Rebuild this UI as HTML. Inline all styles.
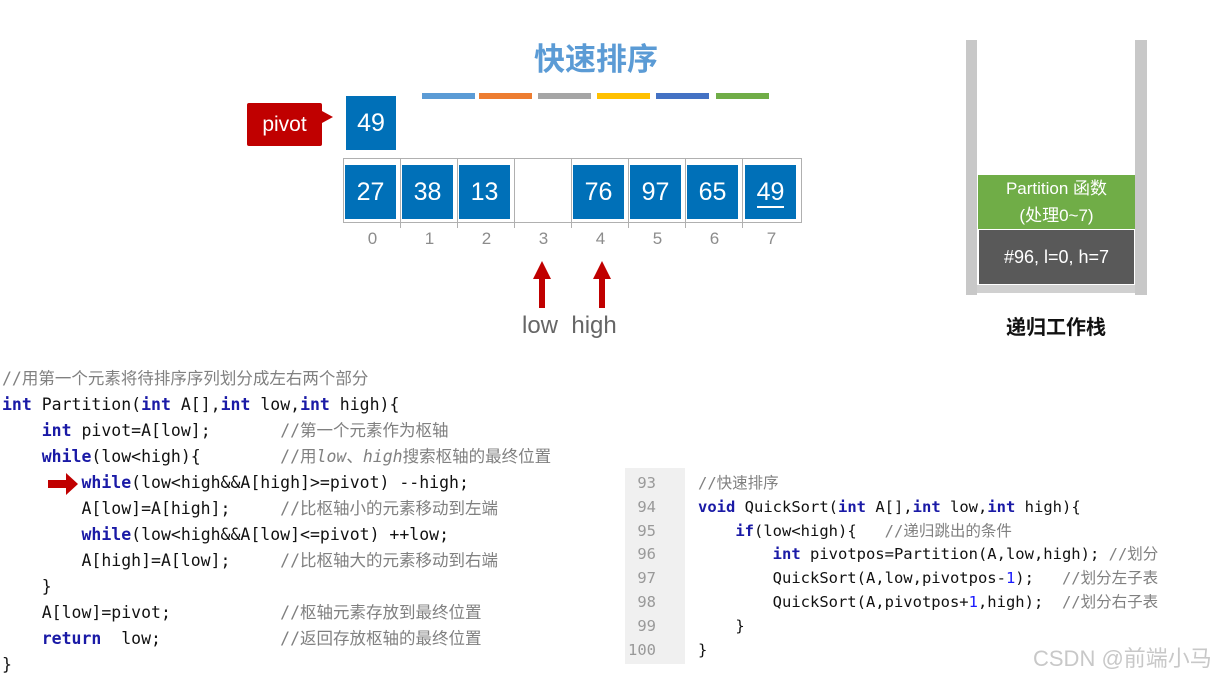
<!DOCTYPE html>
<html><head><meta charset="utf-8"><style>
body{margin:0;width:1220px;height:674px;background:#fff;position:relative;overflow:hidden;font-family:"Liberation Sans","Noto Sans CJK SC",sans-serif}
.a{position:absolute}
.cell{position:absolute;background:#0070b8;color:#fff;font-size:25px;text-align:center;line-height:54px;width:51px;height:54px;top:165px}
.idx{position:absolute;top:229px;width:51px;text-align:center;color:#8c8c8c;font-size:17px}
.bar{position:absolute;top:93px;height:6px;width:53px}
.code{position:absolute;font-family:"DejaVu Sans Mono","Noto Sans CJK SC",monospace;font-size:16.5px;white-space:pre;color:#111;line-height:26px}
.k{color:#1a1aa6;font-weight:bold}
.c{color:#808080}
.ci{color:#808080;font-style:italic}
.code2{position:absolute;font-family:"DejaVu Sans Mono","Noto Sans CJK SC",monospace;font-size:15.5px;white-space:pre;color:#111;line-height:23.8px}
.n{color:#1a1aff}
</style></head><body>
<div class="a" style="left:496px;top:34px;width:200px;text-align:center;font-size:31px;font-weight:bold;color:#5b9bd5">快速排序</div>
<div class="bar" style="left:422px;background:#5b9bd5"></div>
<div class="bar" style="left:479px;background:#ed7d31"></div>
<div class="bar" style="left:538px;background:#a5a5a5"></div>
<div class="bar" style="left:597px;background:#ffc000"></div>
<div class="bar" style="left:656px;background:#4472c4"></div>
<div class="bar" style="left:716px;background:#70ad47"></div>
<div class="a" style="left:247px;top:103px;width:75px;height:43px;background:#c00000;color:#fff;font-size:21px;line-height:43px;text-align:center;border-radius:2px">pivot</div>
<div class="a" style="left:322px;top:111px;width:0;height:0;border-top:6px solid transparent;border-bottom:6px solid transparent;border-left:11px solid #c00000"></div>
<div class="cell" style="left:346px;top:96px;width:50px">49</div>
<div class="a" style="left:343px;top:158px;width:457px;height:63px;border:1px solid #b0b0b0"></div>
<div class="a" style="left:400px;top:158px;width:1px;height:70px;background:#b0b0b0"></div>
<div class="a" style="left:457px;top:158px;width:1px;height:70px;background:#b0b0b0"></div>
<div class="a" style="left:514px;top:158px;width:1px;height:70px;background:#b0b0b0"></div>
<div class="a" style="left:571px;top:158px;width:1px;height:70px;background:#b0b0b0"></div>
<div class="a" style="left:628px;top:158px;width:1px;height:70px;background:#b0b0b0"></div>
<div class="a" style="left:685px;top:158px;width:1px;height:70px;background:#b0b0b0"></div>
<div class="a" style="left:742px;top:158px;width:1px;height:70px;background:#b0b0b0"></div>
<div class="cell" style="left:345px">27</div>
<div class="cell" style="left:402px">38</div>
<div class="cell" style="left:459px">13</div>
<div class="cell" style="left:573px">76</div>
<div class="cell" style="left:630px">97</div>
<div class="cell" style="left:687px">65</div>
<div class="cell" style="left:745px"><span style="border-bottom:2px solid #fff;line-height:28px;display:inline-block">49</span></div>
<div class="idx" style="left:347px">0</div><div class="idx" style="left:404px">1</div><div class="idx" style="left:461px">2</div><div class="idx" style="left:518px">3</div><div class="idx" style="left:575px">4</div><div class="idx" style="left:632px">5</div><div class="idx" style="left:689px">6</div><div class="idx" style="left:746px">7</div>
<svg class="a" style="left:520px;top:258px" width="100" height="52"><g fill="#c00000"><polygon points="22,3 13,21 19,21 19,50 25,50 25,21 31,21"/><polygon points="82,3 73,21 79,21 79,50 85,50 85,21 91,21"/></g></svg>
<div class="a" style="left:522px;top:312px;font-size:24px;color:#666">low&nbsp;&nbsp;high</div>
<div class="a" style="left:966px;top:40px;width:11px;height:255px;background:#c8c8c8"></div>
<div class="a" style="left:1135px;top:40px;width:12px;height:255px;background:#c8c8c8"></div>
<div class="a" style="left:977px;top:285px;width:158px;height:8px;background:#d0d0d0"></div>
<div class="a" style="left:978px;top:175px;width:157px;height:54px;background:#70ad47;color:#fff;font-size:17px;text-align:center;line-height:27px">Partition 函数<br>(处理0~7)</div>
<div class="a" style="left:979px;top:230px;width:155px;height:54px;background:#595959;color:#fff;font-size:18px;text-align:center;line-height:54px">#96, l=0, h=7</div>
<div class="a" style="left:956px;top:311px;width:200px;text-align:center;font-size:20px;font-weight:bold;color:#111">递归工作栈</div>
<div class="code" style="left:2px;top:366px"><span class="c">//用第一个元素将待排序序列划分成左右两个部分</span>
<span class="k">int</span> Partition(<span class="k">int</span> A[],<span class="k">int</span> low,<span class="k">int</span> high){
    <span class="k">int</span> pivot=A[low];       <span class="c">//第一个元素作为枢轴</span>
    <span class="k">while</span>(low&lt;high){        <span class="c">//用<i>low</i>、<i>high</i>搜索枢轴的最终位置</span>
        <span class="k">while</span>(low&lt;high&amp;&amp;A[high]&gt;=pivot) --high;
        A[low]=A[high];     <span class="c">//比枢轴小的元素移动到左端</span>
        <span class="k">while</span>(low&lt;high&amp;&amp;A[low]&lt;=pivot) ++low;
        A[high]=A[low];     <span class="c">//比枢轴大的元素移动到右端</span>
    }
    A[low]=pivot;           <span class="c">//枢轴元素存放到最终位置</span>
    <span class="k">return</span>  low;            <span class="c">//返回存放枢轴的最终位置</span>
}</div>
<svg class="a" style="left:46px;top:471px" width="40" height="26"><polygon points="2,9 20,9 20,2 32,13 20,24 20,17 2,17" fill="#c00000"/></svg>
<div class="a" style="left:625px;top:468px;width:595px;height:196px;background:#fff"></div>
<div class="a" style="left:625px;top:468px;width:60px;height:196px;background:#f0f0f0"></div>
<div class="code2" style="left:628px;top:472px;color:#999;text-align:right;width:28px">93
94
95
96
97
98
99
100</div>
<div class="code2" style="left:698px;top:472px"><span class="c">//快速排序</span>
<span class="k">void</span> QuickSort(<span class="k">int</span> A[],<span class="k">int</span> low,<span class="k">int</span> high){
    <span class="k">if</span>(low&lt;high){   <span class="c">//递归跳出的条件</span>
        <span class="k">int</span> pivotpos=Partition(A,low,high); <span class="c">//划分</span>
        QuickSort(A,low,pivotpos-<span class="n">1</span>);   <span class="c">//划分左子表</span>
        QuickSort(A,pivotpos+<span class="n">1</span>,high);  <span class="c">//划分右子表</span>
    }
}</div>
<div class="a" style="left:1033px;top:641px;font-size:22px;color:#c8c8c8">CSDN @前端小马</div>
</body></html>
